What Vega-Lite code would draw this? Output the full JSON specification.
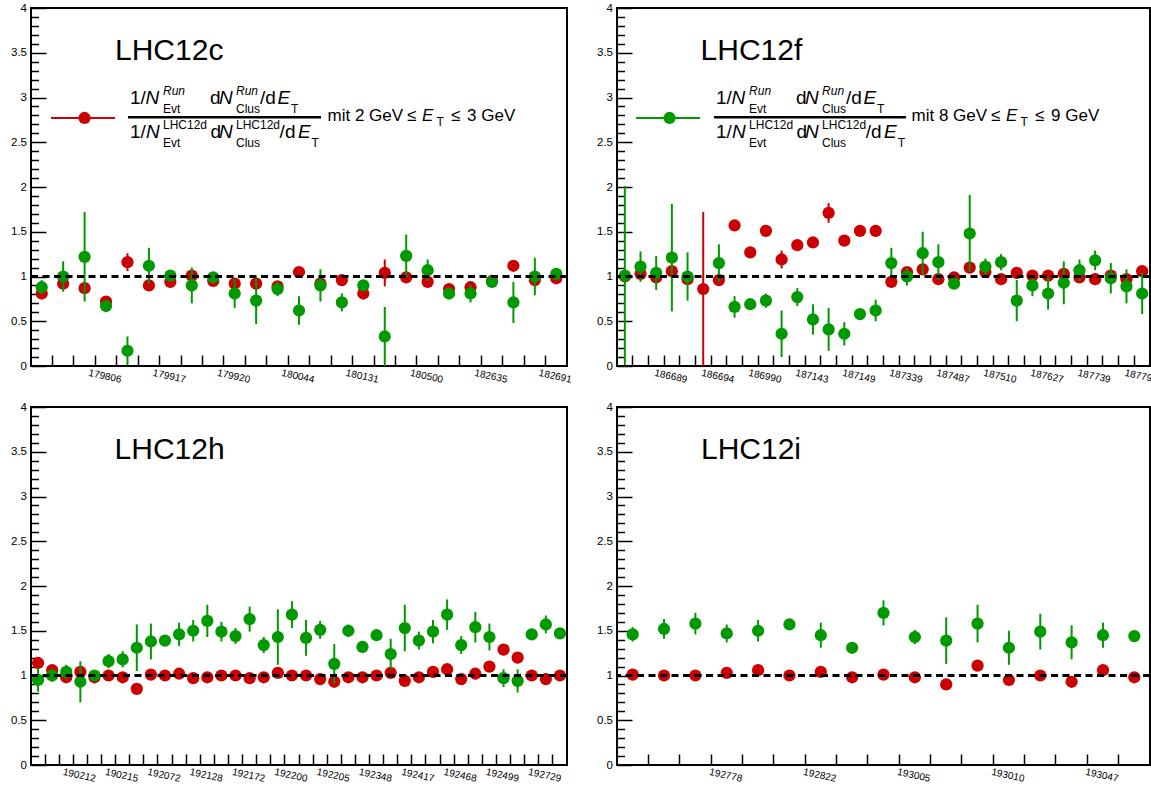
{
  "$schema": "https://vega.github.io/schema/vega-lite/v6.json",
  "background": "white",
  "padding": {"left": 9, "top": 1, "right": 0, "bottom": 0},
  "bounds": "flush",
  "spacing": {"row": 41, "column": 50},
  "columns": 2,
  "datasets": {
    "runs": [
      {"panel":"LHC12c","bin":0,"series":"red","value":0.81,"err":0.04},{"panel":"LHC12c","bin":0,"series":"green","value":0.88,"err":0.08},
      {"panel":"LHC12c","bin":1,"series":"red","value":0.92,"err":0.04},{"panel":"LHC12c","bin":1,"series":"green","value":1.00,"err":0.17},
      {"panel":"LHC12c","bin":2,"series":"red","value":0.87,"err":0.04},{"panel":"LHC12c","bin":2,"series":"green","value":1.22,"err":0.50},
      {"panel":"LHC12c","bin":3,"series":"red","value":0.72,"err":0.04},{"panel":"LHC12c","bin":3,"series":"green","value":0.67,"err":0.03},
      {"panel":"LHC12c","bin":4,"series":"red","value":1.16,"err":0.10},{"panel":"LHC12c","bin":4,"series":"green","value":0.17,"err":0.16},
      {"panel":"LHC12c","bin":5,"series":"red","value":0.90,"err":0.04},{"panel":"LHC12c","bin":5,"series":"green","value":1.12,"err":0.20},
      {"panel":"LHC12c","bin":6,"series":"red","value":0.94,"err":0.04},{"panel":"LHC12c","bin":6,"series":"green","value":1.01,"err":0.05},
      {"panel":"LHC12c","bin":7,"series":"red","value":1.01,"err":0.04},{"panel":"LHC12c","bin":7,"series":"green","value":0.90,"err":0.20},
      {"panel":"LHC12c","bin":8,"series":"red","value":0.95,"err":0.04},{"panel":"LHC12c","bin":8,"series":"green","value":0.99,"err":0.04},
      {"panel":"LHC12c","bin":9,"series":"red","value":0.92,"err":0.04},{"panel":"LHC12c","bin":9,"series":"green","value":0.81,"err":0.16},
      {"panel":"LHC12c","bin":10,"series":"red","value":0.92,"err":0.04},{"panel":"LHC12c","bin":10,"series":"green","value":0.73,"err":0.26},
      {"panel":"LHC12c","bin":11,"series":"red","value":0.89,"err":0.04},{"panel":"LHC12c","bin":11,"series":"green","value":0.86,"err":0.08},
      {"panel":"LHC12c","bin":12,"series":"red","value":1.05,"err":0.04},{"panel":"LHC12c","bin":12,"series":"green","value":0.62,"err":0.16},
      {"panel":"LHC12c","bin":13,"series":"red","value":0.92,"err":0.04},{"panel":"LHC12c","bin":13,"series":"green","value":0.90,"err":0.18},
      {"panel":"LHC12c","bin":14,"series":"red","value":0.96,"err":0.04},{"panel":"LHC12c","bin":14,"series":"green","value":0.71,"err":0.10},
      {"panel":"LHC12c","bin":15,"series":"red","value":0.81,"err":0.04},{"panel":"LHC12c","bin":15,"series":"green","value":0.90,"err":0.06},
      {"panel":"LHC12c","bin":16,"series":"red","value":1.04,"err":0.15},{"panel":"LHC12c","bin":16,"series":"green","value":0.33,"err":0.33},
      {"panel":"LHC12c","bin":17,"series":"red","value":0.99,"err":0.04},{"panel":"LHC12c","bin":17,"series":"green","value":1.23,"err":0.24},
      {"panel":"LHC12c","bin":18,"series":"red","value":0.94,"err":0.04},{"panel":"LHC12c","bin":18,"series":"green","value":1.07,"err":0.12},
      {"panel":"LHC12c","bin":19,"series":"red","value":0.86,"err":0.04},{"panel":"LHC12c","bin":19,"series":"green","value":0.81,"err":0.04},
      {"panel":"LHC12c","bin":20,"series":"red","value":0.88,"err":0.04},{"panel":"LHC12c","bin":20,"series":"green","value":0.81,"err":0.10},
      {"panel":"LHC12c","bin":21,"series":"red","value":0.95,"err":0.04},{"panel":"LHC12c","bin":21,"series":"green","value":0.94,"err":0.05},
      {"panel":"LHC12c","bin":22,"series":"red","value":1.12,"err":0.04},{"panel":"LHC12c","bin":22,"series":"green","value":0.71,"err":0.23},
      {"panel":"LHC12c","bin":23,"series":"red","value":0.96,"err":0.04},{"panel":"LHC12c","bin":23,"series":"green","value":1.00,"err":0.21},
      {"panel":"LHC12c","bin":24,"series":"red","value":0.98,"err":0.04},{"panel":"LHC12c","bin":24,"series":"green","value":1.03,"err":0.03},

      {"panel":"LHC12f","bin":0,"series":"red","value":1.00,"err":0.04},{"panel":"LHC12f","bin":0,"series":"green","value":1.01,"err":1.00},
      {"panel":"LHC12f","bin":1,"series":"red","value":1.03,"err":0.04},{"panel":"LHC12f","bin":1,"series":"green","value":1.11,"err":0.17},
      {"panel":"LHC12f","bin":2,"series":"red","value":0.99,"err":0.04},{"panel":"LHC12f","bin":2,"series":"green","value":1.04,"err":0.19},
      {"panel":"LHC12f","bin":3,"series":"red","value":1.06,"err":0.04},{"panel":"LHC12f","bin":3,"series":"green","value":1.21,"err":0.60},
      {"panel":"LHC12f","bin":4,"series":"red","value":0.97,"err":0.04},{"panel":"LHC12f","bin":4,"series":"green","value":1.00,"err":0.27},
      {"panel":"LHC12f","bin":5,"series":"red","value":0.86,"err":0.86},
      {"panel":"LHC12f","bin":6,"series":"red","value":0.96,"err":0.04},{"panel":"LHC12f","bin":6,"series":"green","value":1.15,"err":0.21},
      {"panel":"LHC12f","bin":7,"series":"red","value":1.57,"err":0.04},{"panel":"LHC12f","bin":7,"series":"green","value":0.66,"err":0.12},
      {"panel":"LHC12f","bin":8,"series":"red","value":1.27,"err":0.04},{"panel":"LHC12f","bin":8,"series":"green","value":0.69,"err":0.05},
      {"panel":"LHC12f","bin":9,"series":"red","value":1.51,"err":0.04},{"panel":"LHC12f","bin":9,"series":"green","value":0.73,"err":0.08},
      {"panel":"LHC12f","bin":10,"series":"red","value":1.19,"err":0.10},{"panel":"LHC12f","bin":10,"series":"green","value":0.36,"err":0.26},
      {"panel":"LHC12f","bin":11,"series":"red","value":1.35,"err":0.04},{"panel":"LHC12f","bin":11,"series":"green","value":0.77,"err":0.10},
      {"panel":"LHC12f","bin":12,"series":"red","value":1.38,"err":0.04},{"panel":"LHC12f","bin":12,"series":"green","value":0.52,"err":0.17},
      {"panel":"LHC12f","bin":13,"series":"red","value":1.71,"err":0.11},{"panel":"LHC12f","bin":13,"series":"green","value":0.41,"err":0.24},
      {"panel":"LHC12f","bin":14,"series":"red","value":1.40,"err":0.04},{"panel":"LHC12f","bin":14,"series":"green","value":0.36,"err":0.13},
      {"panel":"LHC12f","bin":15,"series":"red","value":1.51,"err":0.04},{"panel":"LHC12f","bin":15,"series":"green","value":0.58,"err":0.05},
      {"panel":"LHC12f","bin":16,"series":"red","value":1.51,"err":0.04},{"panel":"LHC12f","bin":16,"series":"green","value":0.62,"err":0.12},
      {"panel":"LHC12f","bin":17,"series":"red","value":0.94,"err":0.04},{"panel":"LHC12f","bin":17,"series":"green","value":1.15,"err":0.17},
      {"panel":"LHC12f","bin":18,"series":"red","value":1.05,"err":0.04},{"panel":"LHC12f","bin":18,"series":"green","value":1.00,"err":0.10},
      {"panel":"LHC12f","bin":19,"series":"red","value":1.08,"err":0.04},{"panel":"LHC12f","bin":19,"series":"green","value":1.26,"err":0.24},
      {"panel":"LHC12f","bin":20,"series":"red","value":0.97,"err":0.04},{"panel":"LHC12f","bin":20,"series":"green","value":1.16,"err":0.20},
      {"panel":"LHC12f","bin":21,"series":"red","value":0.99,"err":0.04},{"panel":"LHC12f","bin":21,"series":"green","value":0.92,"err":0.04},
      {"panel":"LHC12f","bin":22,"series":"red","value":1.10,"err":0.04},{"panel":"LHC12f","bin":22,"series":"green","value":1.48,"err":0.43},
      {"panel":"LHC12f","bin":23,"series":"red","value":1.05,"err":0.04},{"panel":"LHC12f","bin":23,"series":"green","value":1.11,"err":0.09},
      {"panel":"LHC12f","bin":24,"series":"red","value":0.97,"err":0.04},{"panel":"LHC12f","bin":24,"series":"green","value":1.16,"err":0.09},
      {"panel":"LHC12f","bin":25,"series":"red","value":1.04,"err":0.04},{"panel":"LHC12f","bin":25,"series":"green","value":0.73,"err":0.23},
      {"panel":"LHC12f","bin":26,"series":"red","value":1.01,"err":0.04},{"panel":"LHC12f","bin":26,"series":"green","value":0.90,"err":0.12},
      {"panel":"LHC12f","bin":27,"series":"red","value":1.01,"err":0.04},{"panel":"LHC12f","bin":27,"series":"green","value":0.81,"err":0.18},
      {"panel":"LHC12f","bin":28,"series":"red","value":1.03,"err":0.04},{"panel":"LHC12f","bin":28,"series":"green","value":0.93,"err":0.24},
      {"panel":"LHC12f","bin":29,"series":"red","value":0.99,"err":0.04},{"panel":"LHC12f","bin":29,"series":"green","value":1.07,"err":0.12},
      {"panel":"LHC12f","bin":30,"series":"red","value":0.97,"err":0.04},{"panel":"LHC12f","bin":30,"series":"green","value":1.18,"err":0.11},
      {"panel":"LHC12f","bin":31,"series":"red","value":1.01,"err":0.04},{"panel":"LHC12f","bin":31,"series":"green","value":0.98,"err":0.17},
      {"panel":"LHC12f","bin":32,"series":"red","value":0.97,"err":0.04},{"panel":"LHC12f","bin":32,"series":"green","value":0.89,"err":0.19},
      {"panel":"LHC12f","bin":33,"series":"red","value":1.06,"err":0.04},{"panel":"LHC12f","bin":33,"series":"green","value":0.81,"err":0.23},

      {"panel":"LHC12h","bin":0,"series":"red","value":1.14,"err":0.03},{"panel":"LHC12h","bin":0,"series":"green","value":0.95,"err":0.13},
      {"panel":"LHC12h","bin":1,"series":"red","value":1.06,"err":0.03},{"panel":"LHC12h","bin":1,"series":"green","value":1.00,"err":0.07},
      {"panel":"LHC12h","bin":2,"series":"red","value":0.98,"err":0.03},{"panel":"LHC12h","bin":2,"series":"green","value":1.04,"err":0.08},
      {"panel":"LHC12h","bin":3,"series":"red","value":1.04,"err":0.03},{"panel":"LHC12h","bin":3,"series":"green","value":0.93,"err":0.23},
      {"panel":"LHC12h","bin":4,"series":"red","value":0.98,"err":0.03},{"panel":"LHC12h","bin":4,"series":"green","value":1.00,"err":0.03},
      {"panel":"LHC12h","bin":5,"series":"red","value":1.00,"err":0.03},{"panel":"LHC12h","bin":5,"series":"green","value":1.16,"err":0.08},
      {"panel":"LHC12h","bin":6,"series":"red","value":0.98,"err":0.03},{"panel":"LHC12h","bin":6,"series":"green","value":1.18,"err":0.09},
      {"panel":"LHC12h","bin":7,"series":"red","value":0.85,"err":0.03},{"panel":"LHC12h","bin":7,"series":"green","value":1.31,"err":0.26},
      {"panel":"LHC12h","bin":8,"series":"red","value":1.01,"err":0.03},{"panel":"LHC12h","bin":8,"series":"green","value":1.38,"err":0.20},
      {"panel":"LHC12h","bin":9,"series":"red","value":1.00,"err":0.03},{"panel":"LHC12h","bin":9,"series":"green","value":1.39,"err":0.05},
      {"panel":"LHC12h","bin":10,"series":"red","value":1.02,"err":0.03},{"panel":"LHC12h","bin":10,"series":"green","value":1.46,"err":0.13},
      {"panel":"LHC12h","bin":11,"series":"red","value":0.97,"err":0.03},{"panel":"LHC12h","bin":11,"series":"green","value":1.50,"err":0.12},
      {"panel":"LHC12h","bin":12,"series":"red","value":0.98,"err":0.03},{"panel":"LHC12h","bin":12,"series":"green","value":1.61,"err":0.18},
      {"panel":"LHC12h","bin":13,"series":"red","value":1.00,"err":0.03},{"panel":"LHC12h","bin":13,"series":"green","value":1.49,"err":0.11},
      {"panel":"LHC12h","bin":14,"series":"red","value":1.00,"err":0.03},{"panel":"LHC12h","bin":14,"series":"green","value":1.44,"err":0.09},
      {"panel":"LHC12h","bin":15,"series":"red","value":0.97,"err":0.03},{"panel":"LHC12h","bin":15,"series":"green","value":1.63,"err":0.14},
      {"panel":"LHC12h","bin":16,"series":"red","value":0.98,"err":0.03},{"panel":"LHC12h","bin":16,"series":"green","value":1.34,"err":0.09},
      {"panel":"LHC12h","bin":17,"series":"red","value":1.03,"err":0.03},{"panel":"LHC12h","bin":17,"series":"green","value":1.43,"err":0.31},
      {"panel":"LHC12h","bin":18,"series":"red","value":1.00,"err":0.03},{"panel":"LHC12h","bin":18,"series":"green","value":1.68,"err":0.15},
      {"panel":"LHC12h","bin":19,"series":"red","value":1.00,"err":0.03},{"panel":"LHC12h","bin":19,"series":"green","value":1.42,"err":0.20},
      {"panel":"LHC12h","bin":20,"series":"red","value":0.96,"err":0.03},{"panel":"LHC12h","bin":20,"series":"green","value":1.51,"err":0.10},
      {"panel":"LHC12h","bin":21,"series":"red","value":0.93,"err":0.03},{"panel":"LHC12h","bin":21,"series":"green","value":1.13,"err":0.22},
      {"panel":"LHC12h","bin":22,"series":"red","value":0.98,"err":0.03},{"panel":"LHC12h","bin":22,"series":"green","value":1.50,"err":0.07},
      {"panel":"LHC12h","bin":23,"series":"red","value":0.98,"err":0.03},{"panel":"LHC12h","bin":23,"series":"green","value":1.32,"err":0.04},
      {"panel":"LHC12h","bin":24,"series":"red","value":1.00,"err":0.03},{"panel":"LHC12h","bin":24,"series":"green","value":1.45,"err":0.04},
      {"panel":"LHC12h","bin":25,"series":"red","value":1.03,"err":0.03},{"panel":"LHC12h","bin":25,"series":"green","value":1.24,"err":0.17},
      {"panel":"LHC12h","bin":26,"series":"red","value":0.94,"err":0.03},{"panel":"LHC12h","bin":26,"series":"green","value":1.53,"err":0.26},
      {"panel":"LHC12h","bin":27,"series":"red","value":0.98,"err":0.03},{"panel":"LHC12h","bin":27,"series":"green","value":1.39,"err":0.10},
      {"panel":"LHC12h","bin":28,"series":"red","value":1.04,"err":0.03},{"panel":"LHC12h","bin":28,"series":"green","value":1.49,"err":0.13},
      {"panel":"LHC12h","bin":29,"series":"red","value":1.07,"err":0.03},{"panel":"LHC12h","bin":29,"series":"green","value":1.68,"err":0.17},
      {"panel":"LHC12h","bin":30,"series":"red","value":0.96,"err":0.03},{"panel":"LHC12h","bin":30,"series":"green","value":1.34,"err":0.10},
      {"panel":"LHC12h","bin":31,"series":"red","value":1.02,"err":0.03},{"panel":"LHC12h","bin":31,"series":"green","value":1.54,"err":0.17},
      {"panel":"LHC12h","bin":32,"series":"red","value":1.10,"err":0.03},{"panel":"LHC12h","bin":32,"series":"green","value":1.43,"err":0.15},
      {"panel":"LHC12h","bin":33,"series":"red","value":1.29,"err":0.03},{"panel":"LHC12h","bin":33,"series":"green","value":0.97,"err":0.10},
      {"panel":"LHC12h","bin":34,"series":"red","value":1.20,"err":0.03},{"panel":"LHC12h","bin":34,"series":"green","value":0.94,"err":0.13},
      {"panel":"LHC12h","bin":35,"series":"red","value":1.00,"err":0.03},{"panel":"LHC12h","bin":35,"series":"green","value":1.46,"err":0.04},
      {"panel":"LHC12h","bin":36,"series":"red","value":0.96,"err":0.03},{"panel":"LHC12h","bin":36,"series":"green","value":1.57,"err":0.10},
      {"panel":"LHC12h","bin":37,"series":"red","value":1.00,"err":0.03},{"panel":"LHC12h","bin":37,"series":"green","value":1.47,"err":0.04},

      {"panel":"LHC12i","bin":0,"series":"red","value":1.01,"err":0.03},{"panel":"LHC12i","bin":0,"series":"green","value":1.46,"err":0.08},
      {"panel":"LHC12i","bin":1,"series":"red","value":1.00,"err":0.03},{"panel":"LHC12i","bin":1,"series":"green","value":1.52,"err":0.11},
      {"panel":"LHC12i","bin":2,"series":"red","value":1.00,"err":0.03},{"panel":"LHC12i","bin":2,"series":"green","value":1.58,"err":0.12},
      {"panel":"LHC12i","bin":3,"series":"red","value":1.03,"err":0.03},{"panel":"LHC12i","bin":3,"series":"green","value":1.47,"err":0.10},
      {"panel":"LHC12i","bin":4,"series":"red","value":1.06,"err":0.03},{"panel":"LHC12i","bin":4,"series":"green","value":1.50,"err":0.12},
      {"panel":"LHC12i","bin":5,"series":"red","value":1.00,"err":0.03},{"panel":"LHC12i","bin":5,"series":"green","value":1.57,"err":0.05},
      {"panel":"LHC12i","bin":6,"series":"red","value":1.04,"err":0.03},{"panel":"LHC12i","bin":6,"series":"green","value":1.45,"err":0.14},
      {"panel":"LHC12i","bin":7,"series":"red","value":0.98,"err":0.03},{"panel":"LHC12i","bin":7,"series":"green","value":1.31,"err":0.06},
      {"panel":"LHC12i","bin":8,"series":"red","value":1.01,"err":0.03},{"panel":"LHC12i","bin":8,"series":"green","value":1.70,"err":0.14},
      {"panel":"LHC12i","bin":9,"series":"red","value":0.98,"err":0.03},{"panel":"LHC12i","bin":9,"series":"green","value":1.43,"err":0.08},
      {"panel":"LHC12i","bin":10,"series":"red","value":0.90,"err":0.03},{"panel":"LHC12i","bin":10,"series":"green","value":1.39,"err":0.26},
      {"panel":"LHC12i","bin":11,"series":"red","value":1.11,"err":0.03},{"panel":"LHC12i","bin":11,"series":"green","value":1.58,"err":0.21},
      {"panel":"LHC12i","bin":12,"series":"red","value":0.95,"err":0.03},{"panel":"LHC12i","bin":12,"series":"green","value":1.31,"err":0.19},
      {"panel":"LHC12i","bin":13,"series":"red","value":1.00,"err":0.03},{"panel":"LHC12i","bin":13,"series":"green","value":1.49,"err":0.20},
      {"panel":"LHC12i","bin":14,"series":"red","value":0.93,"err":0.03},{"panel":"LHC12i","bin":14,"series":"green","value":1.37,"err":0.19},
      {"panel":"LHC12i","bin":15,"series":"red","value":1.06,"err":0.03},{"panel":"LHC12i","bin":15,"series":"green","value":1.45,"err":0.14},
      {"panel":"LHC12i","bin":16,"series":"red","value":0.98,"err":0.03},{"panel":"LHC12i","bin":16,"series":"green","value":1.44,"err":0.04}
    ]
  },
  "concat": [
    {
      "width": 536, "height": 358,
      "resolve": {"axis": {"y": "independent"}},
      "layer": [
        {"data": {"name": "runs"}, "transform": [{"filter": "datum.panel === 'LHC12c' && datum.series === 'red'"}],
         "mark": {"type": "errorbar", "color": "#cc0000", "thickness": 2},
         "encoding": {
           "x": {"field": "bin", "type": "ordinal", "bandPosition": 0.5, "scale": {"type": "band", "padding": 0},
                 "axis": {"title": null, "values": [1,2,3,4,5,6,7,8,9,10,11,12,13,14,15,16,17,18,19,20,21,22,23,24], "bandPosition": 0,
                          "labelExpr": "datum.value % 3 == 0 ? ['179806','179917','179920','180044','180131','180500','182635','182691'][datum.value/3-1] : ''",
                          "tickSize": -11, "labelPadding": 16, "labelAngle": 12, "labelAlign": "center", "labelBaseline": "top", "labelFontSize": 10, "labelOverlap": false}},
           "y": {"field": "value", "type": "quantitative", "scale": {"domain": [0, 4], "nice": false, "zero": false},
                 "axis": {"title": null, "orient": "left", "values": [0,0.5,1,1.5,2,2.5,3,3.5,4], "format": "~g", "tickSize": -15, "labelPadding": 19.5, "labelFontSize": 11.5, "labelOverlap": false}},
           "yError": {"field": "err"}}},
        {"data": {"name": "runs"}, "transform": [{"filter": "datum.panel === 'LHC12c' && datum.series === 'red'"}],
         "mark": {"type": "point", "filled": true, "shape": "circle", "size": 150, "color": "#cc0000", "opacity": 1},
         "encoding": {"x": {"field": "bin", "type": "ordinal", "bandPosition": 0.5}, "y": {"field": "value", "type": "quantitative", "axis": null}}},
        {"data": {"name": "runs"}, "transform": [{"filter": "datum.panel === 'LHC12c' && datum.series === 'green'"}],
         "mark": {"type": "errorbar", "color": "#009900", "thickness": 2},
         "encoding": {"x": {"field": "bin", "type": "ordinal", "bandPosition": 0.5}, "y": {"field": "value", "type": "quantitative", "axis": null}, "yError": {"field": "err"}}},
        {"data": {"name": "runs"}, "transform": [{"filter": "datum.panel === 'LHC12c' && datum.series === 'green'"}],
         "mark": {"type": "point", "filled": true, "shape": "circle", "size": 150, "color": "#009900", "opacity": 1},
         "encoding": {"x": {"field": "bin", "type": "ordinal", "bandPosition": 0.5}, "y": {"field": "value", "type": "quantitative", "axis": null}}},
        {"data": {"values": [{}]}, "mark": {"type": "rule", "color": "black", "strokeWidth": 3, "strokeDash": [7, 4.5]},
         "encoding": {"y": {"datum": 1, "type": "quantitative", "axis": {"title": null, "orient": "left", "values": [0.1,0.2,0.3,0.4,0.6,0.7,0.8,0.9,1.1,1.2,1.3,1.4,1.6,1.7,1.8,1.9,2.1,2.2,2.3,2.4,2.6,2.7,2.8,2.9,3.1,3.2,3.3,3.4,3.6,3.7,3.8,3.9], "labels": false, "tickSize": -7.5}}}},
        {"data": {"values": [{}]}, "mark": {"type": "text", "text": "LHC12c", "fontSize": 30, "align": "left", "baseline": "alphabetic", "dx": 73.3},
         "encoding": {"x": {"datum": 0, "type": "ordinal"}, "y": {"datum": 3.419, "type": "quantitative", "axis": null}}},
        {"data": {"values": [{}]}, "mark": {"type": "rule", "color": "#cc0000", "strokeWidth": 2, "xOffset": 9.3, "x2Offset": 73.3},
         "encoding": {"x": {"datum": 0, "type": "ordinal"}, "x2": {"datum": 0}, "y": {"datum": 2.771, "type": "quantitative", "axis": null}}},
        {"data": {"values": [{}]}, "mark": {"type": "point", "filled": true, "shape": "circle", "size": 150, "color": "#cc0000", "opacity": 1, "xOffset": 42.8},
         "encoding": {"x": {"datum": 0, "type": "ordinal"}, "y": {"datum": 2.771, "type": "quantitative", "axis": null}}},
        {"data": {"values": [{}]}, "mark": {"type": "rule", "color": "black", "strokeWidth": 2.5, "xOffset": 86.3, "x2Offset": 279.3},
         "encoding": {"x": {"datum": 0, "type": "ordinal"}, "x2": {"datum": 0}, "y": {"datum": 2.779, "type": "quantitative", "axis": null}}},
        {"data": {"values": [{}]}, "mark": {"type": "text", "text": "1/", "fontSize": 19, "align": "left", "baseline": "alphabetic", "dx": 88.3}, "encoding": {"x": {"datum": 0, "type": "ordinal"}, "y": {"datum": 2.927, "type": "quantitative", "axis": null}}},
        {"data": {"values": [{}]}, "mark": {"type": "text", "text": "N", "fontSize": 19, "fontStyle": "italic", "align": "left", "baseline": "alphabetic", "dx": 103.8}, "encoding": {"x": {"datum": 0, "type": "ordinal"}, "y": {"datum": 2.927, "type": "quantitative", "axis": null}}},
        {"data": {"values": [{}]}, "mark": {"type": "text", "text": "Run", "fontSize": 12, "fontStyle": "italic", "align": "left", "baseline": "alphabetic", "dx": 121.3}, "encoding": {"x": {"datum": 0, "type": "ordinal"}, "y": {"datum": 3.028, "type": "quantitative", "axis": null}}},
        {"data": {"values": [{}]}, "mark": {"type": "text", "text": "Evt", "fontSize": 12, "align": "left", "baseline": "alphabetic", "dx": 121.3}, "encoding": {"x": {"datum": 0, "type": "ordinal"}, "y": {"datum": 2.827, "type": "quantitative", "axis": null}}},
        {"data": {"values": [{}]}, "mark": {"type": "text", "text": "d", "fontSize": 19, "align": "left", "baseline": "alphabetic", "dx": 168.3}, "encoding": {"x": {"datum": 0, "type": "ordinal"}, "y": {"datum": 2.927, "type": "quantitative", "axis": null}}},
        {"data": {"values": [{}]}, "mark": {"type": "text", "text": "N", "fontSize": 19, "fontStyle": "italic", "align": "left", "baseline": "alphabetic", "dx": 177.3}, "encoding": {"x": {"datum": 0, "type": "ordinal"}, "y": {"datum": 2.927, "type": "quantitative", "axis": null}}},
        {"data": {"values": [{}]}, "mark": {"type": "text", "text": "Run", "fontSize": 12, "fontStyle": "italic", "align": "left", "baseline": "alphabetic", "dx": 194.3}, "encoding": {"x": {"datum": 0, "type": "ordinal"}, "y": {"datum": 3.028, "type": "quantitative", "axis": null}}},
        {"data": {"values": [{}]}, "mark": {"type": "text", "text": "Clus", "fontSize": 12, "align": "left", "baseline": "alphabetic", "dx": 194.3}, "encoding": {"x": {"datum": 0, "type": "ordinal"}, "y": {"datum": 2.827, "type": "quantitative", "axis": null}}},
        {"data": {"values": [{}]}, "mark": {"type": "text", "text": "/d", "fontSize": 19, "align": "left", "baseline": "alphabetic", "dx": 218.3}, "encoding": {"x": {"datum": 0, "type": "ordinal"}, "y": {"datum": 2.927, "type": "quantitative", "axis": null}}},
        {"data": {"values": [{}]}, "mark": {"type": "text", "text": "E", "fontSize": 19, "fontStyle": "italic", "align": "left", "baseline": "alphabetic", "dx": 235.8}, "encoding": {"x": {"datum": 0, "type": "ordinal"}, "y": {"datum": 2.927, "type": "quantitative", "axis": null}}},
        {"data": {"values": [{}]}, "mark": {"type": "text", "text": "T", "fontSize": 12, "align": "left", "baseline": "alphabetic", "dx": 249.3}, "encoding": {"x": {"datum": 0, "type": "ordinal"}, "y": {"datum": 2.827, "type": "quantitative", "axis": null}}},
        {"data": {"values": [{}]}, "mark": {"type": "text", "text": "1/", "fontSize": 19, "align": "left", "baseline": "alphabetic", "dx": 88.3}, "encoding": {"x": {"datum": 0, "type": "ordinal"}, "y": {"datum": 2.547, "type": "quantitative", "axis": null}}},
        {"data": {"values": [{}]}, "mark": {"type": "text", "text": "N", "fontSize": 19, "fontStyle": "italic", "align": "left", "baseline": "alphabetic", "dx": 104.3}, "encoding": {"x": {"datum": 0, "type": "ordinal"}, "y": {"datum": 2.547, "type": "quantitative", "axis": null}}},
        {"data": {"values": [{}]}, "mark": {"type": "text", "text": "LHC12d", "fontSize": 12, "align": "left", "baseline": "alphabetic", "dx": 121.3}, "encoding": {"x": {"datum": 0, "type": "ordinal"}, "y": {"datum": 2.648, "type": "quantitative", "axis": null}}},
        {"data": {"values": [{}]}, "mark": {"type": "text", "text": "Evt", "fontSize": 12, "align": "left", "baseline": "alphabetic", "dx": 121.3}, "encoding": {"x": {"datum": 0, "type": "ordinal"}, "y": {"datum": 2.447, "type": "quantitative", "axis": null}}},
        {"data": {"values": [{}]}, "mark": {"type": "text", "text": "d", "fontSize": 19, "align": "left", "baseline": "alphabetic", "dx": 168.8}, "encoding": {"x": {"datum": 0, "type": "ordinal"}, "y": {"datum": 2.547, "type": "quantitative", "axis": null}}},
        {"data": {"values": [{}]}, "mark": {"type": "text", "text": "N", "fontSize": 19, "fontStyle": "italic", "align": "left", "baseline": "alphabetic", "dx": 177.3}, "encoding": {"x": {"datum": 0, "type": "ordinal"}, "y": {"datum": 2.547, "type": "quantitative", "axis": null}}},
        {"data": {"values": [{}]}, "mark": {"type": "text", "text": "LHC12d", "fontSize": 12, "align": "left", "baseline": "alphabetic", "dx": 194.3}, "encoding": {"x": {"datum": 0, "type": "ordinal"}, "y": {"datum": 2.648, "type": "quantitative", "axis": null}}},
        {"data": {"values": [{}]}, "mark": {"type": "text", "text": "Clus", "fontSize": 12, "align": "left", "baseline": "alphabetic", "dx": 194.3}, "encoding": {"x": {"datum": 0, "type": "ordinal"}, "y": {"datum": 2.447, "type": "quantitative", "axis": null}}},
        {"data": {"values": [{}]}, "mark": {"type": "text", "text": "/d", "fontSize": 19, "align": "left", "baseline": "alphabetic", "dx": 237.9}, "encoding": {"x": {"datum": 0, "type": "ordinal"}, "y": {"datum": 2.547, "type": "quantitative", "axis": null}}},
        {"data": {"values": [{}]}, "mark": {"type": "text", "text": "E", "fontSize": 19, "fontStyle": "italic", "align": "left", "baseline": "alphabetic", "dx": 256.3}, "encoding": {"x": {"datum": 0, "type": "ordinal"}, "y": {"datum": 2.547, "type": "quantitative", "axis": null}}},
        {"data": {"values": [{}]}, "mark": {"type": "text", "text": "T", "fontSize": 12, "align": "left", "baseline": "alphabetic", "dx": 269.9}, "encoding": {"x": {"datum": 0, "type": "ordinal"}, "y": {"datum": 2.447, "type": "quantitative", "axis": null}}},
        {"data": {"values": [{}]}, "mark": {"type": "text", "text": "mit 2 GeV", "fontSize": 17, "align": "left", "baseline": "alphabetic", "dx": 285.8}, "encoding": {"x": {"datum": 0, "type": "ordinal"}, "y": {"datum": 2.737, "type": "quantitative", "axis": null}}},
        {"data": {"values": [{}]}, "mark": {"type": "text", "text": "≤", "fontSize": 17, "align": "left", "baseline": "alphabetic", "dx": 365.3}, "encoding": {"x": {"datum": 0, "type": "ordinal"}, "y": {"datum": 2.737, "type": "quantitative", "axis": null}}},
        {"data": {"values": [{}]}, "mark": {"type": "text", "text": "E", "fontSize": 17, "fontStyle": "italic", "align": "left", "baseline": "alphabetic", "dx": 380.3}, "encoding": {"x": {"datum": 0, "type": "ordinal"}, "y": {"datum": 2.737, "type": "quantitative", "axis": null}}},
        {"data": {"values": [{}]}, "mark": {"type": "text", "text": "T", "fontSize": 12, "align": "left", "baseline": "alphabetic", "dx": 394.8}, "encoding": {"x": {"datum": 0, "type": "ordinal"}, "y": {"datum": 2.682, "type": "quantitative", "axis": null}}},
        {"data": {"values": [{}]}, "mark": {"type": "text", "text": "≤", "fontSize": 17, "align": "left", "baseline": "alphabetic", "dx": 409.3}, "encoding": {"x": {"datum": 0, "type": "ordinal"}, "y": {"datum": 2.737, "type": "quantitative", "axis": null}}},
        {"data": {"values": [{}]}, "mark": {"type": "text", "text": "3  GeV", "fontSize": 17, "align": "left", "baseline": "alphabetic", "dx": 425.3}, "encoding": {"x": {"datum": 0, "type": "ordinal"}, "y": {"datum": 2.737, "type": "quantitative", "axis": null}}}
      ]
    },
    {
      "width": 533, "height": 358,
      "resolve": {"axis": {"y": "independent"}},
      "layer": [
        {"data": {"name": "runs"}, "transform": [{"filter": "datum.panel === 'LHC12f' && datum.series === 'red'"}],
         "mark": {"type": "errorbar", "color": "#cc0000", "thickness": 2},
         "encoding": {
           "x": {"field": "bin", "type": "ordinal", "bandPosition": 0.5, "scale": {"type": "band", "padding": 0},
                 "axis": {"title": null, "values": [1,2,3,4,5,6,7,8,9,10,11,12,13,14,15,16,17,18,19,20,21,22,23,24,25,26,27,28,29,30,31,32,33], "bandPosition": 0,
                          "labelExpr": "datum.value % 3 == 0 ? ['186689','186694','186990','187143','187149','187339','187487','187510','187627','187739','187791'][datum.value/3-1] : ''",
                          "tickSize": -11, "labelPadding": 16, "labelAngle": 12, "labelAlign": "center", "labelBaseline": "top", "labelFontSize": 10, "labelOverlap": false}},
           "y": {"field": "value", "type": "quantitative", "scale": {"domain": [0, 4], "nice": false, "zero": false},
                 "axis": {"title": null, "orient": "left", "values": [0,0.5,1,1.5,2,2.5,3,3.5,4], "format": "~g", "tickSize": -15, "labelPadding": 19.5, "labelFontSize": 11.5, "labelOverlap": false}},
           "yError": {"field": "err"}}},
        {"data": {"name": "runs"}, "transform": [{"filter": "datum.panel === 'LHC12f' && datum.series === 'red'"}],
         "mark": {"type": "point", "filled": true, "shape": "circle", "size": 150, "color": "#cc0000", "opacity": 1},
         "encoding": {"x": {"field": "bin", "type": "ordinal", "bandPosition": 0.5}, "y": {"field": "value", "type": "quantitative", "axis": null}}},
        {"data": {"name": "runs"}, "transform": [{"filter": "datum.panel === 'LHC12f' && datum.series === 'green'"}],
         "mark": {"type": "errorbar", "color": "#009900", "thickness": 2},
         "encoding": {"x": {"field": "bin", "type": "ordinal", "bandPosition": 0.5}, "y": {"field": "value", "type": "quantitative", "axis": null}, "yError": {"field": "err"}}},
        {"data": {"name": "runs"}, "transform": [{"filter": "datum.panel === 'LHC12f' && datum.series === 'green'"}],
         "mark": {"type": "point", "filled": true, "shape": "circle", "size": 150, "color": "#009900", "opacity": 1},
         "encoding": {"x": {"field": "bin", "type": "ordinal", "bandPosition": 0.5}, "y": {"field": "value", "type": "quantitative", "axis": null}}},
        {"data": {"values": [{}]}, "mark": {"type": "rule", "color": "black", "strokeWidth": 3, "strokeDash": [7, 4.5]},
         "encoding": {"y": {"datum": 1, "type": "quantitative", "axis": {"title": null, "orient": "left", "values": [0.1,0.2,0.3,0.4,0.6,0.7,0.8,0.9,1.1,1.2,1.3,1.4,1.6,1.7,1.8,1.9,2.1,2.2,2.3,2.4,2.6,2.7,2.8,2.9,3.1,3.2,3.3,3.4,3.6,3.7,3.8,3.9], "labels": false, "tickSize": -7.5}}}},
        {"data": {"values": [{}]}, "mark": {"type": "text", "text": "LHC12f", "fontSize": 30, "align": "left", "baseline": "alphabetic", "dx": 75.7},
         "encoding": {"x": {"datum": 0, "type": "ordinal"}, "y": {"datum": 3.419, "type": "quantitative", "axis": null}}},
        {"data": {"values": [{}]}, "mark": {"type": "rule", "color": "#009900", "strokeWidth": 2, "xOffset": 11.2, "x2Offset": 75.2},
         "encoding": {"x": {"datum": 0, "type": "ordinal"}, "x2": {"datum": 0}, "y": {"datum": 2.771, "type": "quantitative", "axis": null}}},
        {"data": {"values": [{}]}, "mark": {"type": "point", "filled": true, "shape": "circle", "size": 150, "color": "#009900", "opacity": 1, "xOffset": 44.7},
         "encoding": {"x": {"datum": 0, "type": "ordinal"}, "y": {"datum": 2.771, "type": "quantitative", "axis": null}}},
        {"data": {"values": [{}]}, "mark": {"type": "rule", "color": "black", "strokeWidth": 2.5, "xOffset": 89.2, "x2Offset": 281.2},
         "encoding": {"x": {"datum": 0, "type": "ordinal"}, "x2": {"datum": 0}, "y": {"datum": 2.779, "type": "quantitative", "axis": null}}},
        {"data": {"values": [{}]}, "mark": {"type": "text", "text": "1/", "fontSize": 19, "align": "left", "baseline": "alphabetic", "dx": 91.2}, "encoding": {"x": {"datum": 0, "type": "ordinal"}, "y": {"datum": 2.927, "type": "quantitative", "axis": null}}},
        {"data": {"values": [{}]}, "mark": {"type": "text", "text": "N", "fontSize": 19, "fontStyle": "italic", "align": "left", "baseline": "alphabetic", "dx": 106.7}, "encoding": {"x": {"datum": 0, "type": "ordinal"}, "y": {"datum": 2.927, "type": "quantitative", "axis": null}}},
        {"data": {"values": [{}]}, "mark": {"type": "text", "text": "Run", "fontSize": 12, "fontStyle": "italic", "align": "left", "baseline": "alphabetic", "dx": 124.2}, "encoding": {"x": {"datum": 0, "type": "ordinal"}, "y": {"datum": 3.028, "type": "quantitative", "axis": null}}},
        {"data": {"values": [{}]}, "mark": {"type": "text", "text": "Evt", "fontSize": 12, "align": "left", "baseline": "alphabetic", "dx": 124.2}, "encoding": {"x": {"datum": 0, "type": "ordinal"}, "y": {"datum": 2.827, "type": "quantitative", "axis": null}}},
        {"data": {"values": [{}]}, "mark": {"type": "text", "text": "d", "fontSize": 19, "align": "left", "baseline": "alphabetic", "dx": 171.2}, "encoding": {"x": {"datum": 0, "type": "ordinal"}, "y": {"datum": 2.927, "type": "quantitative", "axis": null}}},
        {"data": {"values": [{}]}, "mark": {"type": "text", "text": "N", "fontSize": 19, "fontStyle": "italic", "align": "left", "baseline": "alphabetic", "dx": 180.2}, "encoding": {"x": {"datum": 0, "type": "ordinal"}, "y": {"datum": 2.927, "type": "quantitative", "axis": null}}},
        {"data": {"values": [{}]}, "mark": {"type": "text", "text": "Run", "fontSize": 12, "fontStyle": "italic", "align": "left", "baseline": "alphabetic", "dx": 197.2}, "encoding": {"x": {"datum": 0, "type": "ordinal"}, "y": {"datum": 3.028, "type": "quantitative", "axis": null}}},
        {"data": {"values": [{}]}, "mark": {"type": "text", "text": "Clus", "fontSize": 12, "align": "left", "baseline": "alphabetic", "dx": 197.2}, "encoding": {"x": {"datum": 0, "type": "ordinal"}, "y": {"datum": 2.827, "type": "quantitative", "axis": null}}},
        {"data": {"values": [{}]}, "mark": {"type": "text", "text": "/d", "fontSize": 19, "align": "left", "baseline": "alphabetic", "dx": 221.2}, "encoding": {"x": {"datum": 0, "type": "ordinal"}, "y": {"datum": 2.927, "type": "quantitative", "axis": null}}},
        {"data": {"values": [{}]}, "mark": {"type": "text", "text": "E", "fontSize": 19, "fontStyle": "italic", "align": "left", "baseline": "alphabetic", "dx": 238.7}, "encoding": {"x": {"datum": 0, "type": "ordinal"}, "y": {"datum": 2.927, "type": "quantitative", "axis": null}}},
        {"data": {"values": [{}]}, "mark": {"type": "text", "text": "T", "fontSize": 12, "align": "left", "baseline": "alphabetic", "dx": 252.2}, "encoding": {"x": {"datum": 0, "type": "ordinal"}, "y": {"datum": 2.827, "type": "quantitative", "axis": null}}},
        {"data": {"values": [{}]}, "mark": {"type": "text", "text": "1/", "fontSize": 19, "align": "left", "baseline": "alphabetic", "dx": 91.2}, "encoding": {"x": {"datum": 0, "type": "ordinal"}, "y": {"datum": 2.547, "type": "quantitative", "axis": null}}},
        {"data": {"values": [{}]}, "mark": {"type": "text", "text": "N", "fontSize": 19, "fontStyle": "italic", "align": "left", "baseline": "alphabetic", "dx": 107.2}, "encoding": {"x": {"datum": 0, "type": "ordinal"}, "y": {"datum": 2.547, "type": "quantitative", "axis": null}}},
        {"data": {"values": [{}]}, "mark": {"type": "text", "text": "LHC12d", "fontSize": 12, "align": "left", "baseline": "alphabetic", "dx": 124.2}, "encoding": {"x": {"datum": 0, "type": "ordinal"}, "y": {"datum": 2.648, "type": "quantitative", "axis": null}}},
        {"data": {"values": [{}]}, "mark": {"type": "text", "text": "Evt", "fontSize": 12, "align": "left", "baseline": "alphabetic", "dx": 124.2}, "encoding": {"x": {"datum": 0, "type": "ordinal"}, "y": {"datum": 2.447, "type": "quantitative", "axis": null}}},
        {"data": {"values": [{}]}, "mark": {"type": "text", "text": "d", "fontSize": 19, "align": "left", "baseline": "alphabetic", "dx": 171.7}, "encoding": {"x": {"datum": 0, "type": "ordinal"}, "y": {"datum": 2.547, "type": "quantitative", "axis": null}}},
        {"data": {"values": [{}]}, "mark": {"type": "text", "text": "N", "fontSize": 19, "fontStyle": "italic", "align": "left", "baseline": "alphabetic", "dx": 180.2}, "encoding": {"x": {"datum": 0, "type": "ordinal"}, "y": {"datum": 2.547, "type": "quantitative", "axis": null}}},
        {"data": {"values": [{}]}, "mark": {"type": "text", "text": "LHC12d", "fontSize": 12, "align": "left", "baseline": "alphabetic", "dx": 197.2}, "encoding": {"x": {"datum": 0, "type": "ordinal"}, "y": {"datum": 2.648, "type": "quantitative", "axis": null}}},
        {"data": {"values": [{}]}, "mark": {"type": "text", "text": "Clus", "fontSize": 12, "align": "left", "baseline": "alphabetic", "dx": 197.2}, "encoding": {"x": {"datum": 0, "type": "ordinal"}, "y": {"datum": 2.447, "type": "quantitative", "axis": null}}},
        {"data": {"values": [{}]}, "mark": {"type": "text", "text": "/d", "fontSize": 19, "align": "left", "baseline": "alphabetic", "dx": 240.8}, "encoding": {"x": {"datum": 0, "type": "ordinal"}, "y": {"datum": 2.547, "type": "quantitative", "axis": null}}},
        {"data": {"values": [{}]}, "mark": {"type": "text", "text": "E", "fontSize": 19, "fontStyle": "italic", "align": "left", "baseline": "alphabetic", "dx": 259.2}, "encoding": {"x": {"datum": 0, "type": "ordinal"}, "y": {"datum": 2.547, "type": "quantitative", "axis": null}}},
        {"data": {"values": [{}]}, "mark": {"type": "text", "text": "T", "fontSize": 12, "align": "left", "baseline": "alphabetic", "dx": 272.8}, "encoding": {"x": {"datum": 0, "type": "ordinal"}, "y": {"datum": 2.447, "type": "quantitative", "axis": null}}},
        {"data": {"values": [{}]}, "mark": {"type": "text", "text": "mit 8 GeV", "fontSize": 17, "align": "left", "baseline": "alphabetic", "dx": 286.7}, "encoding": {"x": {"datum": 0, "type": "ordinal"}, "y": {"datum": 2.737, "type": "quantitative", "axis": null}}},
        {"data": {"values": [{}]}, "mark": {"type": "text", "text": "≤", "fontSize": 17, "align": "left", "baseline": "alphabetic", "dx": 366.2}, "encoding": {"x": {"datum": 0, "type": "ordinal"}, "y": {"datum": 2.737, "type": "quantitative", "axis": null}}},
        {"data": {"values": [{}]}, "mark": {"type": "text", "text": "E", "fontSize": 17, "fontStyle": "italic", "align": "left", "baseline": "alphabetic", "dx": 381.2}, "encoding": {"x": {"datum": 0, "type": "ordinal"}, "y": {"datum": 2.737, "type": "quantitative", "axis": null}}},
        {"data": {"values": [{}]}, "mark": {"type": "text", "text": "T", "fontSize": 12, "align": "left", "baseline": "alphabetic", "dx": 395.7}, "encoding": {"x": {"datum": 0, "type": "ordinal"}, "y": {"datum": 2.682, "type": "quantitative", "axis": null}}},
        {"data": {"values": [{}]}, "mark": {"type": "text", "text": "≤", "fontSize": 17, "align": "left", "baseline": "alphabetic", "dx": 410.2}, "encoding": {"x": {"datum": 0, "type": "ordinal"}, "y": {"datum": 2.737, "type": "quantitative", "axis": null}}},
        {"data": {"values": [{}]}, "mark": {"type": "text", "text": "9  GeV", "fontSize": 17, "align": "left", "baseline": "alphabetic", "dx": 426.2}, "encoding": {"x": {"datum": 0, "type": "ordinal"}, "y": {"datum": 2.737, "type": "quantitative", "axis": null}}}
      ]
    },
    {
      "width": 536, "height": 358,
      "resolve": {"axis": {"y": "independent"}},
      "layer": [
        {"data": {"name": "runs"}, "transform": [{"filter": "datum.panel === 'LHC12h' && datum.series === 'red'"}],
         "mark": {"type": "errorbar", "color": "#cc0000", "thickness": 2},
         "encoding": {
           "x": {"field": "bin", "type": "ordinal", "bandPosition": 0.5, "scale": {"type": "band", "padding": 0},
                 "axis": {"title": null, "values": [1,2,3,4,5,6,7,8,9,10,11,12,13,14,15,16,17,18,19,20,21,22,23,24,25,26,27,28,29,30,31,32,33,34,35,36,37], "bandPosition": 0,
                          "labelExpr": "datum.value % 3 == 0 ? ['190212','190215','192072','192128','192172','192200','192205','192348','192417','192468','192499','192729'][datum.value/3-1] : ''",
                          "tickSize": -11, "labelPadding": 16, "labelAngle": 12, "labelAlign": "center", "labelBaseline": "top", "labelFontSize": 10, "labelOverlap": false}},
           "y": {"field": "value", "type": "quantitative", "scale": {"domain": [0, 4], "nice": false, "zero": false},
                 "axis": {"title": null, "orient": "left", "values": [0,0.5,1,1.5,2,2.5,3,3.5,4], "format": "~g", "tickSize": -15, "labelPadding": 19.5, "labelFontSize": 11.5, "labelOverlap": false}},
           "yError": {"field": "err"}}},
        {"data": {"name": "runs"}, "transform": [{"filter": "datum.panel === 'LHC12h' && datum.series === 'red'"}],
         "mark": {"type": "point", "filled": true, "shape": "circle", "size": 150, "color": "#cc0000", "opacity": 1},
         "encoding": {"x": {"field": "bin", "type": "ordinal", "bandPosition": 0.5}, "y": {"field": "value", "type": "quantitative", "axis": null}}},
        {"data": {"name": "runs"}, "transform": [{"filter": "datum.panel === 'LHC12h' && datum.series === 'green'"}],
         "mark": {"type": "errorbar", "color": "#009900", "thickness": 2},
         "encoding": {"x": {"field": "bin", "type": "ordinal", "bandPosition": 0.5}, "y": {"field": "value", "type": "quantitative", "axis": null}, "yError": {"field": "err"}}},
        {"data": {"name": "runs"}, "transform": [{"filter": "datum.panel === 'LHC12h' && datum.series === 'green'"}],
         "mark": {"type": "point", "filled": true, "shape": "circle", "size": 150, "color": "#009900", "opacity": 1},
         "encoding": {"x": {"field": "bin", "type": "ordinal", "bandPosition": 0.5}, "y": {"field": "value", "type": "quantitative", "axis": null}}},
        {"data": {"values": [{}]}, "mark": {"type": "rule", "color": "black", "strokeWidth": 3, "strokeDash": [7, 4.5]},
         "encoding": {"y": {"datum": 1, "type": "quantitative", "axis": {"title": null, "orient": "left", "values": [0.1,0.2,0.3,0.4,0.6,0.7,0.8,0.9,1.1,1.2,1.3,1.4,1.6,1.7,1.8,1.9,2.1,2.2,2.3,2.4,2.6,2.7,2.8,2.9,3.1,3.2,3.3,3.4,3.6,3.7,3.8,3.9], "labels": false, "tickSize": -7.5}}}},
        {"data": {"values": [{}]}, "mark": {"type": "text", "text": "LHC12h", "fontSize": 30, "align": "left", "baseline": "alphabetic", "dx": 76.5},
         "encoding": {"x": {"datum": 0, "type": "ordinal"}, "y": {"datum": 3.419, "type": "quantitative", "axis": null}}}
      ]
    },
    {
      "width": 533, "height": 358,
      "resolve": {"axis": {"y": "independent"}},
      "layer": [
        {"data": {"name": "runs"}, "transform": [{"filter": "datum.panel === 'LHC12i' && datum.series === 'red'"}],
         "mark": {"type": "errorbar", "color": "#cc0000", "thickness": 2},
         "encoding": {
           "x": {"field": "bin", "type": "ordinal", "bandPosition": 0.5, "scale": {"type": "band", "padding": 0},
                 "axis": {"title": null, "values": [1,2,3,4,5,6,7,8,9,10,11,12,13,14,15,16], "bandPosition": 0,
                          "labelExpr": "datum.value % 3 == 0 ? ['192778','192822','193005','193010','193047'][datum.value/3-1] : ''",
                          "tickSize": -11, "labelPadding": 16, "labelAngle": 12, "labelAlign": "center", "labelBaseline": "top", "labelFontSize": 10, "labelOverlap": false}},
           "y": {"field": "value", "type": "quantitative", "scale": {"domain": [0, 4], "nice": false, "zero": false},
                 "axis": {"title": null, "orient": "left", "values": [0,0.5,1,1.5,2,2.5,3,3.5,4], "format": "~g", "tickSize": -15, "labelPadding": 19.5, "labelFontSize": 11.5, "labelOverlap": false}},
           "yError": {"field": "err"}}},
        {"data": {"name": "runs"}, "transform": [{"filter": "datum.panel === 'LHC12i' && datum.series === 'red'"}],
         "mark": {"type": "point", "filled": true, "shape": "circle", "size": 150, "color": "#cc0000", "opacity": 1},
         "encoding": {"x": {"field": "bin", "type": "ordinal", "bandPosition": 0.5}, "y": {"field": "value", "type": "quantitative", "axis": null}}},
        {"data": {"name": "runs"}, "transform": [{"filter": "datum.panel === 'LHC12i' && datum.series === 'green'"}],
         "mark": {"type": "errorbar", "color": "#009900", "thickness": 2},
         "encoding": {"x": {"field": "bin", "type": "ordinal", "bandPosition": 0.5}, "y": {"field": "value", "type": "quantitative", "axis": null}, "yError": {"field": "err"}}},
        {"data": {"name": "runs"}, "transform": [{"filter": "datum.panel === 'LHC12i' && datum.series === 'green'"}],
         "mark": {"type": "point", "filled": true, "shape": "circle", "size": 150, "color": "#009900", "opacity": 1},
         "encoding": {"x": {"field": "bin", "type": "ordinal", "bandPosition": 0.5}, "y": {"field": "value", "type": "quantitative", "axis": null}}},
        {"data": {"values": [{}]}, "mark": {"type": "rule", "color": "black", "strokeWidth": 3, "strokeDash": [7, 4.5]},
         "encoding": {"y": {"datum": 1, "type": "quantitative", "axis": {"title": null, "orient": "left", "values": [0.1,0.2,0.3,0.4,0.6,0.7,0.8,0.9,1.1,1.2,1.3,1.4,1.6,1.7,1.8,1.9,2.1,2.2,2.3,2.4,2.6,2.7,2.8,2.9,3.1,3.2,3.3,3.4,3.6,3.7,3.8,3.9], "labels": false, "tickSize": -7.5}}}},
        {"data": {"values": [{}]}, "mark": {"type": "text", "text": "LHC12i", "fontSize": 30, "align": "left", "baseline": "alphabetic", "dx": 68.3},
         "encoding": {"x": {"datum": 0, "type": "ordinal"}, "y": {"datum": 3.419, "type": "quantitative", "axis": null}}}
      ]
    }
  ],
  "config": {
    "view": {"stroke": "black", "strokeWidth": 2},
    "font": "Liberation Sans",
    "axis": {"domain": false, "grid": false, "tickColor": "black", "tickWidth": 1.5, "labelColor": "black", "labelFont": "Liberation Sans", "labelOverlap": false},
    "text": {"font": "Liberation Sans", "color": "black"}
  }
}
